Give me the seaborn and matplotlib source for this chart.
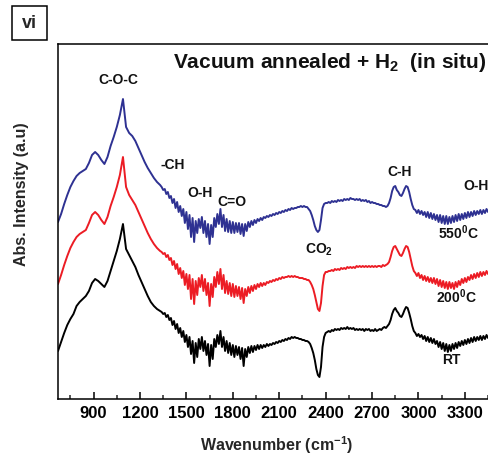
import matplotlib
matplotlib.use("Agg")
import matplotlib.pyplot as plt
from matplotlib.ticker import MultipleLocator, NullLocator
from matplotlib.patches import Rectangle
import pandas as pd
import seaborn as sns

# Wavenumber sampling (cm^-1): 20 cm^-1 steps through the C-O-C band, 10 cm^-1 afterwards
wn_coarse = list(range(670, 1340, 20))
wn_fine = list(range(1340, 3470, 10))

# Absorbance (a.u., stacked with offsets) for each treatment
rt_coarse = [48, 57, 66, 74, 80, 85, 93, 97, 100, 103, 108, 116, 120, 118, 115, 112, 118,
             128, 138, 148, 160, 175, 150, 144, 138, 132, 124, 117, 110, 103, 97, 93, 90, 88]
rt_fine = [
    87, 85, 86, 82, 84, 79, 81, 74, 78, 70,
    75, 66, 71, 62, 68, 57, 64, 52, 62, 45,
    58, 36, 56, 42, 60, 50, 62, 48, 58, 44,
    55, 33, 54, 40, 60, 52, 64, 55, 68, 52,
    62, 48, 58, 46, 56, 44, 54, 42, 53, 44,
    52, 40, 51, 33, 50, 42, 52, 46, 53, 47,
    53, 49, 54, 50, 54, 51, 54, 52, 55, 53,
    55, 54, 56, 55, 57, 56, 58, 57, 59, 58,
    60, 59, 61, 60, 62, 61, 62, 61, 61, 60,
    60, 59, 59, 58, 58, 57, 55, 51, 46, 39,
    30, 24, 22, 32, 52, 62, 66, 67, 68, 67,
    69, 68, 70, 69, 70, 69, 71, 70, 71, 70,
    72, 70, 71, 70, 71, 69, 70, 69, 70, 69,
    70, 68, 70, 69, 70, 68, 69, 68, 70, 68,
    69, 70, 69, 71, 72, 71, 73, 75, 79, 85,
    89, 91, 88, 86, 83, 82, 85, 89, 92, 91,
    86, 80, 73, 68, 66, 63, 65, 62, 64, 60,
    63, 58, 62, 57, 61, 56, 60, 55, 58, 52,
    57, 50, 56, 48, 55, 47, 54, 48, 55, 50,
    56, 51, 57, 53, 58, 54, 59, 55, 60, 56,
    61, 57, 62, 58, 62, 59, 63, 59, 63, 60,
    64, 61, 64]

t200_coarse = [115, 124, 134, 143, 151, 157, 162, 165, 167, 169, 176, 184, 187, 184, 179, 175, 182,
               193, 202, 212, 224, 242, 212, 204, 199, 194, 187, 180, 173, 166, 160, 155, 151, 148]
t200_fine = [
    147, 145, 146, 142, 144, 139, 141, 134, 138, 130,
    135, 125, 131, 121, 128, 114, 125, 110, 124, 100,
    120, 95, 118, 104, 121, 112, 124, 108, 120, 104,
    116, 93, 115, 102, 122, 112, 127, 115, 130, 110,
    124, 106, 118, 105, 116, 103, 115, 102, 113, 103,
    112, 100, 111, 96, 110, 103, 112, 106, 113, 108,
    114, 110, 115, 112, 116, 113, 116, 114, 117, 116,
    118, 117, 119, 118, 120, 119, 121, 120, 122, 121,
    122, 122, 123, 122, 123, 122, 123, 122, 122, 121,
    121, 121, 120, 120, 119, 119, 117, 114, 110, 104,
    97, 90, 88, 96, 113, 124, 127, 127, 128, 128,
    129, 128, 130, 129, 130, 129, 131, 130, 131, 130,
    132, 131, 132, 131, 132, 131, 133, 132, 133, 132,
    133, 132, 133, 132, 133, 132, 133, 132, 133, 132,
    133, 133, 132, 134, 133, 134, 135, 137, 142, 148,
    152, 153, 150, 147, 144, 143, 146, 150, 153, 152,
    147, 140, 133, 128, 126, 123, 126, 121, 124, 119,
    123, 118, 122, 117, 121, 116, 121, 115, 120, 113,
    119, 112, 118, 111, 117, 110, 117, 111, 116, 110,
    117, 112, 118, 114, 120, 116, 121, 117, 122, 119,
    124, 120, 125, 121, 126, 122, 127, 123, 127, 124,
    128, 125, 128]

t550_coarse = [177, 185, 195, 204, 212, 218, 223, 226, 228, 230, 236, 244, 247, 244, 239, 235, 242,
               253, 262, 272, 284, 300, 272, 266, 263, 258, 251, 244, 237, 231, 226, 221, 217, 214]
t550_fine = [
    212, 209, 210, 205, 207, 201, 203, 196, 200, 191,
    197, 187, 193, 183, 190, 176, 187, 170, 184, 162,
    181, 157, 178, 166, 180, 171, 182, 166, 178, 162,
    175, 155, 174, 162, 181, 172, 185, 175, 190, 172,
    184, 168, 180, 167, 178, 166, 177, 166, 176, 167,
    176, 165, 175, 163, 175, 168, 177, 172, 178, 174,
    179, 176, 180, 178, 181, 179, 182, 181, 183, 182,
    184, 183, 185, 184, 186, 185, 187, 186, 188, 187,
    189, 188, 190, 189, 191, 190, 191, 191, 192, 192,
    193, 192, 193, 192, 192, 190, 188, 184, 179, 173,
    169, 167, 169, 179, 191, 195, 196, 196, 197, 196,
    198, 197, 198, 197, 199, 198, 199, 198, 200, 199,
    200, 199, 201, 200, 200, 199, 200, 199, 200, 198,
    199, 198, 199, 197, 198, 196, 197, 196, 196, 195,
    195, 194, 194, 193, 193, 192, 193, 196, 201, 208,
    212, 213, 209, 207, 204, 203, 206, 210, 213, 212,
    207, 200, 194, 190, 189, 186, 189, 185, 188, 184,
    187, 182, 187, 181, 186, 180, 185, 179, 184, 177,
    184, 176, 183, 175, 183, 175, 182, 176, 183, 177,
    184, 178, 185, 179, 185, 180, 186, 181, 187, 182,
    187, 183, 188, 184, 188, 185, 189, 185, 189, 186,
    190, 187, 190]

series_names = ["RT", "200C", "550C"]
series_colors = ["#000000", "#ec1c24", "#2e3192"]

wavenumber = wn_coarse + wn_fine
spectra = {
    "RT": rt_coarse + rt_fine,
    "200C": t200_coarse + t200_fine,
    "550C": t550_coarse + t550_fine,
}
for name, vals in spectra.items():
    assert len(vals) == len(wavenumber), (name, len(vals), len(wavenumber))

frames = [pd.DataFrame({"wavenumber": wavenumber, "absorbance": spectra[n], "sample": n})
          for n in series_names]
df = pd.concat(frames, ignore_index=True)

sns.set_theme(style="ticks")
plt.rcParams["font.family"] = ["Liberation Sans", "DejaVu Sans"]
plt.rcParams["font.weight"] = "bold"
plt.rcParams["mathtext.fontset"] = "custom"
plt.rcParams["mathtext.rm"] = "Liberation Sans:bold"
plt.rcParams["mathtext.bf"] = "Liberation Sans:bold"
plt.rcParams["mathtext.it"] = "Liberation Sans:bold"
plt.rcParams["mathtext.default"] = "bf"

W, H = 489, 456
fig = plt.figure(figsize=(W / 100, H / 100), dpi=100)
ax_left, ax_bottom, ax_top = 58, 400, 45
x_min, x_max = 670, 3500
px_per_unit = 0.1547
ax_width_px = (x_max - x_min) * px_per_unit
ax = fig.add_axes([ax_left / W, (H - ax_bottom) / H, ax_width_px / W, (ax_bottom - ax_top) / H])

sns.lineplot(data=df, x="wavenumber", y="absorbance", hue="sample",
             hue_order=series_names, palette=series_colors,
             estimator=None, sort=False, linewidth=1.4, legend=False, ax=ax)

ax.set_xlim(x_min, x_max)
ax.set_ylim(0, 355)
ax.set_xlabel("")
ax.set_ylabel("")

for side in ["left", "top", "bottom", "right"]:
    ax.spines[side].set_linewidth(1.1)
    ax.spines[side].set_color("black")

ax.xaxis.set_major_locator(MultipleLocator(300))
ax.xaxis.set_minor_locator(MultipleLocator(150))
ax.yaxis.set_major_locator(NullLocator())
ax.yaxis.set_minor_locator(NullLocator())
ax.tick_params(axis="x", which="major", direction="in", length=5, width=1.1,
               labelsize=12, pad=4, colors="black", top=False)
ax.tick_params(axis="x", which="minor", direction="in", length=3, width=1.1, top=False)
for lbl in ax.get_xticklabels():
    lbl.set_fontweight("bold")

# Band assignments and sample labels
txt = dict(fontsize=10, fontweight="bold", color="#111111", ha="center", va="center")
ax.text(1058, 320, "C-O-C", **txt)
ax.text(1409, 235, "-CH", **txt)
ax.text(1589, 207, "O-H", **txt)
ax.text(1796, 198, "C=O", **txt)
ax.text(2360, 150, r"CO$_2$", **txt)
ax.text(2881, 228, "C-H", **txt)
ax.text(3288, 214, "O-H", fontsize=10, fontweight="bold", color="#111111", ha="left", va="center")
ax.text(3256, 167, r"550$^0$C", **txt)
ax.text(3243, 103, r"200$^0$C", **txt)
ax.text(3211, 40, "RT", **txt)

fig.text(173 / W, 1 - 63 / H, r"Vacuum annealed + H$_2$  (in situ)", fontsize=15,
         fontweight="bold", ha="left", va="center", color="#111111")

fig.text(277 / W, 1 - 445 / H, r"Wavenumber (cm$^{-1}$)", fontsize=11.5,
         fontweight="bold", ha="center", va="center")
fig.text(22 / W, 1 - 194 / H, "Abs. Intensity (a.u)", fontsize=11.5,
         fontweight="bold", ha="center", va="center", rotation=90)

# Panel tag
fig.patches.append(Rectangle((12 / W, 1 - 41 / H), 35 / W, 34 / H, transform=fig.transFigure,
                             fill=False, edgecolor="black", linewidth=1.1))
fig.text(29.5 / W, 1 - 24 / H, "vi", fontsize=13, fontweight="bold", ha="center", va="center")

fig.savefig("out.png", dpi=100)
